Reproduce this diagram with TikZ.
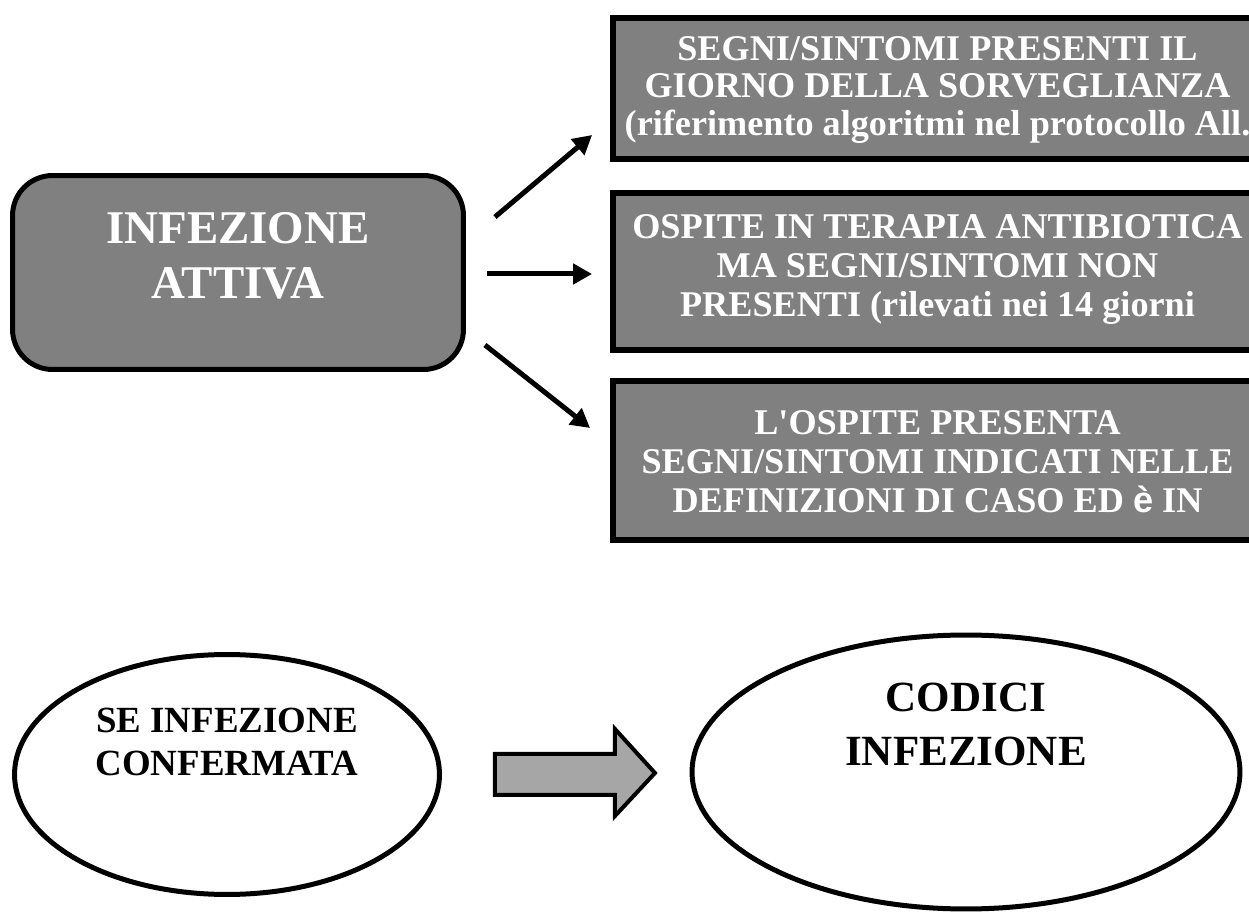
\documentclass[tikz,border=0pt]{standalone}
\usepackage{fontspec}
\setmainfont{Liberation Serif}
\newfontfamily\mysans{Liberation Sans}
\usetikzlibrary{shapes.geometric,arrows.meta,calc}
\definecolor{myboxcolor}{HTML}{808080}
\definecolor{myarrowcolor}{HTML}{A6A6A6}

\begin{document}
\begin{tikzpicture}[x=0.02cm, y=-0.02cm,
  greybox/.style={draw, line width=0.12cm, fill=myboxcolor, rectangle, minimum width=13cm, inner sep=0pt},
  boxtext/.style={text=white, align=center, inner sep=0pt, font=\bfseries\fontsize{20.6pt}{22.2pt}\selectfont},
  oval/.style={draw, line width=0.1cm, ellipse, fill=white, inner sep=0pt},
  arr/.style={line width=0.1cm, -{Triangle[length=0.38cm, width=0.4cm]}},
  bigarrow/.style={draw, line width=0.08cm, fill=myarrowcolor, line join=miter}]%
\clip (0,0) rectangle (1249,915);%
% starting box
\node[draw, line width=0.1cm, fill=myboxcolor, rectangle, rounded corners=0.8cm, minimum width=9.02cm, minimum height=3.88cm] (attiva) at (238,272.5) {};%
\node[text=white, align=center, font=\bfseries\fontsize{26.7pt}{31.3pt}\selectfont] (attivatext) at ($(attiva.center)+(0,-17)$) {INFEZIONE\\ATTIVA};%
% the three cases
\node[greybox, minimum height=2.84cm, path picture={\node[boxtext, font=\bfseries\fontsize{20.6pt}{21.4pt}\selectfont] at ([yshift=-0.03cm]path picture bounding box.center) {SEGNI/SINTOMI PRESENTI IL\\GIORNO DELLA SORVEGLIANZA\\(riferimento algoritmi nel protocollo All.};}] (segni) at (937.5,88.5) {};%
\node[greybox, minimum height=3.16cm, path picture={\node[boxtext] at ([yshift=0.04cm]path picture bounding box.center) {OSPITE IN TERAPIA ANTIBIOTICA\\MA SEGNI/SINTOMI NON\\PRESENTI (rilevati nei 14 giorni};}] (ospite) at (937.5,271.5) {};%
\node[greybox, minimum height=3.2cm, path picture={\node[boxtext] at ([yshift=-0.02cm]path picture bounding box.center) {L\textquotesingle OSPITE PRESENTA\\SEGNI/SINTOMI INDICATI NELLE\\DEFINIZIONI DI CASO ED {\mysans è} IN};}] (presenta) at (937.5,460.5) {};%
\draw[arr] ($(attiva.east)+(29,-55.5)$) -- ($(segni.west)+(-17.5,46.5)$);%
\draw[arr] ($(attiva.east)+(21,1.5)$) -- ($(ospite.west)+(-17.5,2.5)$);%
\draw[arr] ($(attiva.east)+(19,72.5)$) -- ($(presenta.west)+(-19.5,-32.5)$);%
% bottom row
\node[oval, minimum width=8.5cm, minimum height=4.8cm] (conferma) at (227,774.5) {};%
\node[align=center, font=\bfseries\fontsize{21pt}{25pt}\selectfont] (confermatext) at ($(conferma.center)+(0,-32.5)$) {SE INFEZIONE\\CONFERMATA};%
\node[oval, minimum width=10.96cm, minimum height=5.48cm] (codici) at (966,772) {};%
\node[align=center, font=\bfseries\fontsize{24.5pt}{31pt}\selectfont] (codicitext) at ($(codici.center)+(0,-47.5)$) {CODICI\\INFEZIONE};%
\draw[bigarrow] ($(conferma.east)+(53,-20.5)$) -- ++(120,0) -- ++(0,-25) -- ++(40,44) -- ++(-40,43) -- ++(0,-21) -- ++(-120,0) -- cycle;%
\end{tikzpicture}
\end{document}
